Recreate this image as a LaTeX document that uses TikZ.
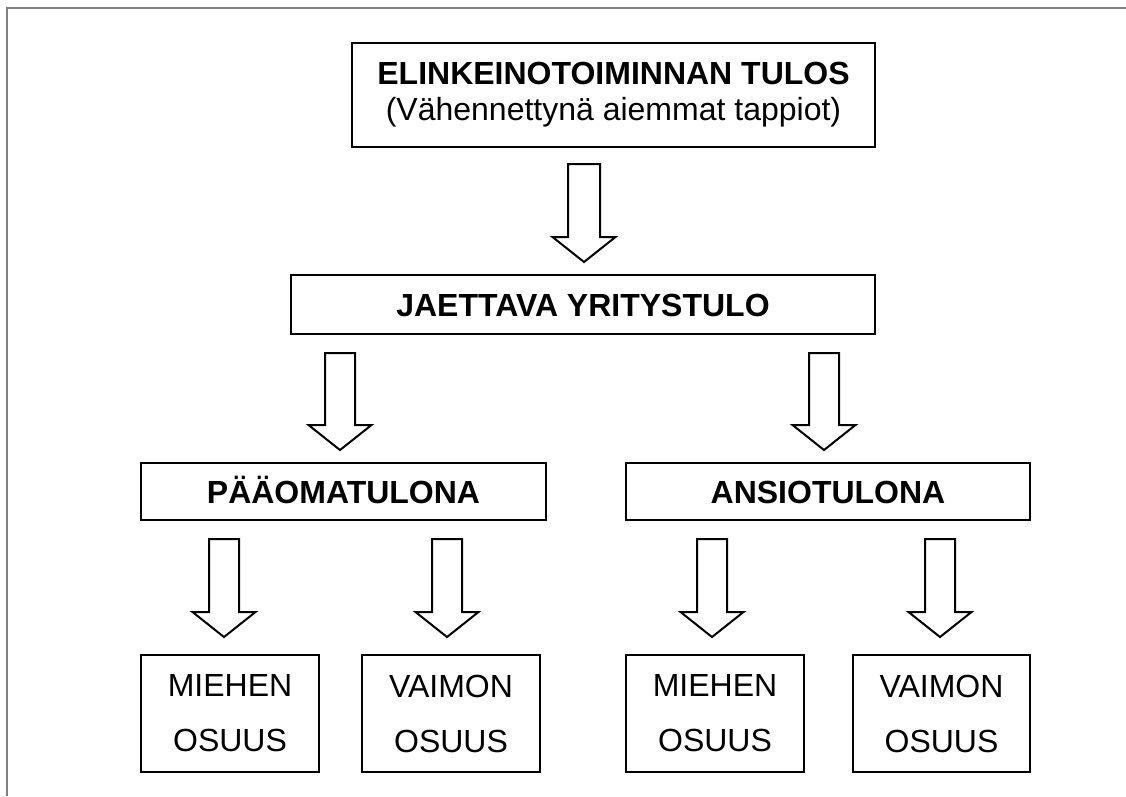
\documentclass[tikz,border=0pt]{standalone}
\usepackage{fontspec}
\setmainfont{Liberation Sans}
\usetikzlibrary{calc}
\tikzset{
  box/.style={draw=black, line width=2pt, inner sep=0pt, align=center,
    font=\fontsize{32}{55}\selectfont},
  headbox/.style={box, font=\bfseries\fontsize{32}{36}\selectfont},
  oneline/.style={headbox, text height=23pt, text depth=0pt},
  fat/.style={draw=black, line width=2pt, line join=miter, fill=white},
  frameline/.style={draw=black!50, line width=2pt}
}
% hollow block arrow from #1 (top of shaft) to #2 (tip); #3 = half shaft width
\newcommand\fatarrow[3]{%
  \path[fat] let \p1=(#1), \p2=(#2) in
    (\x1-#3,\y1) -- (\x1+#3,\y1) -- (\x1+#3,\y2+25pt) -- (\x1+31.5pt,\y2+25pt)
    -- (\x2,\y2) -- (\x1-31.5pt,\y2+25pt) -- (\x1-#3,\y2+25pt) -- cycle;}
\begin{document}
\begin{tikzpicture}[x=1pt, y=-1pt]
\useasboundingbox (0,0) rectangle (1126,796);
% page frame (top and left edges)
\draw[frameline] (6.5,796) -- (6.5,7.5) -- (1126,7.5);

% boxes
\node[headbox, minimum width=523pt, minimum height=104pt] (tulos) at (613.5,95)
  {ELINKEINOTOIMINNAN TULOS\\{\mdseries (Vähennettynä aiemmat tappiot)}};
\node[oneline, minimum width=584pt, minimum height=59pt] (jaettava) at (583,304.5) {JAETTAVA YRITYSTULO};
\node[oneline, minimum width=405pt, minimum height=57pt] (paaoma) at (343.5,491.5) {PÄÄOMATULONA};
\node[oneline, minimum width=404pt, minimum height=57pt] (ansio) at (828,491.5) {ANSIOTULONA};
\node[box, minimum width=178pt, minimum height=117pt] (m1) at (230,713.5) {MIEHEN\\OSUUS};
\node[box, minimum width=178pt, minimum height=117pt] (v1) at (451,713.5) {VAIMON\\OSUUS};
\node[box, minimum width=178pt, minimum height=117pt] (m2) at (715,713.5) {MIEHEN\\OSUUS};
\node[box, minimum width=177pt, minimum height=117pt] (v2) at (941.5,713.5) {VAIMON\\OSUUS};

% arrow ends
\coordinate (a0s) at (584,164);  \coordinate (a0e) at (584,262);
\coordinate (a1s) at (340,353);  \coordinate (a1e) at (340,450);
\coordinate (a2s) at (824,353);  \coordinate (a2e) at (824,450);
\coordinate (b1s) at (224,539);  \coordinate (b1e) at (224,637);
\coordinate (b2s) at (447,539);  \coordinate (b2e) at (447,637);
\coordinate (b3s) at (712,539);  \coordinate (b3e) at (712,637);
\coordinate (b4s) at (940,539);  \coordinate (b4e) at (940,637);

\fatarrow{a0s}{a0e}{16pt}
\fatarrow{a1s}{a1e}{15pt}
\fatarrow{a2s}{a2e}{15pt}
\fatarrow{b1s}{b1e}{15pt}
\fatarrow{b2s}{b2e}{15pt}
\fatarrow{b3s}{b3e}{15pt}
\fatarrow{b4s}{b4e}{15pt}
\end{tikzpicture}
\end{document}
